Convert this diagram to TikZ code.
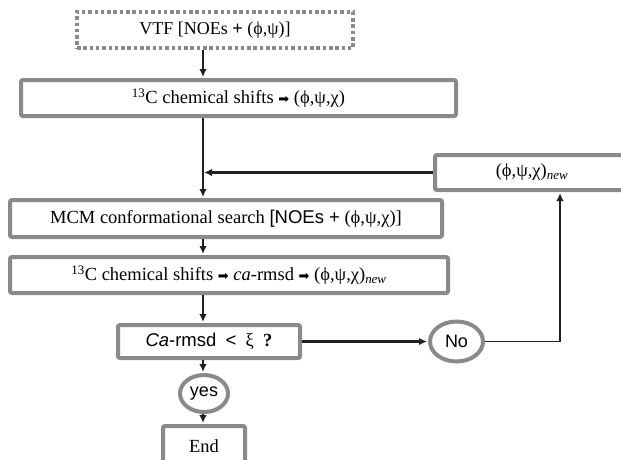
\documentclass[tikz,border=0pt]{standalone}
\usepackage{fontspec}
\setmainfont{Liberation Serif}
\setsansfont{Liberation Sans}
\newfontfamily\arrowfont{DejaVu Sans}
\usetikzlibrary{arrows.meta,shapes.geometric,calc}
\definecolor{FlowGray}{HTML}{8A8A8A}
\definecolor{FlowInk}{HTML}{231F20}
\newcommand{\heavyarr}{{\arrowfont\fontsize{13pt}{13pt}\selectfont ➡}}
\tikzset{
  flowBase/.style={
    font=\fontsize{18.5pt}{21pt}\selectfont,
    text centered,
    inner sep=0pt,
    line width=4pt,
    draw=FlowGray,
    rounded corners=2pt
  },
  flowBox/.style={
    flowBase,
    rectangle
  },
  flowStart/.style={
    flowBase,
    rounded corners=0pt,
    font=\fontsize{18pt}{21pt}\selectfont,
    dash pattern=on 3.5pt off 2.8pt
  },
  flowAnswer/.style={
    flowBase,
    ellipse,
    font=\sffamily\fontsize{18pt}{21pt}\selectfont
  },
  flowArrow/.style={
    line width=2.8pt,
    color=FlowInk,
    shorten >=1pt,
    -{Latex[length=8pt,width=7.5pt]}
  },
  flowArrowThin/.style={
    flowArrow,
    line width=1.5pt
  }
}
\begin{document}
\begin{tikzpicture}[x=1pt, y=-1pt]
  \useasboundingbox (0,0) rectangle (621,459);
  \coordinate (spine) at (203,0);
  \coordinate (riser) at (560,0);

  \node (vtf) [flowStart, minimum width=276pt, minimum height=36pt] at (215,30)
    {VTF [NOEs \textsf{+} (ϕ,ψ)]};
  \node (c13a) [flowBox, minimum width=435pt, minimum height=36pt] at (238.5,98)
    {\textsuperscript{13}C chemical shifts \heavyarr{} (ϕ,ψ,χ)};
  \node (fb) [flowBox, minimum width=194pt, minimum height=35pt] at (532,172.5)
    {(ϕ,ψ,χ)\textsubscript{\textit{new}}};
  \node (mcm) [flowBox, minimum width=432pt, minimum height=37pt] at (226,218.5)
    {MCM conformational search \textsf{[NOEs +} (ϕ,ψ,χ)]};
  \node (c13b) [flowBox, minimum width=438pt, minimum height=36pt] at (229,275)
    {\textsuperscript{13}C chemical shifts \heavyarr{} \textit{ca}-rmsd \heavyarr{} (ϕ,ψ,χ)\textsubscript{\textit{new}}};
  \node (test) [flowBox, minimum width=182pt, minimum height=33pt] at (209,341.5)
    {\textsf{\textit{Ca}-rmsd\enspace<\enspace}ξ\enspace\textbf{?}};
  \node (no) [flowAnswer, minimum width=53pt, minimum height=40pt] at (456.5,341.5) {No};
  \node (yes) [flowAnswer, minimum width=48pt, minimum height=37pt] at (204,393.5) {yes};
  \node (endb) [flowBox, minimum width=82pt, minimum height=40pt] at (204,446) {End};

  \draw [flowArrow] (vtf.south -| spine) -- (c13a.north -| spine);
  \draw [flowArrow] (c13a.south -| spine) -- (mcm.north -| spine);
  \draw [flowArrow] (fb.west) -- (fb.west -| spine);
  \draw [flowArrow] (mcm.south -| spine) -- (c13b.north -| spine);
  \draw [flowArrow] (c13b.south -| spine) -- (test.north -| spine);
  \draw [flowArrow] (test.south -| spine) -- (yes.north -| spine);
  \draw [flowArrow] (yes.south -| spine) -- (endb.north -| spine);
  \draw [flowArrow] (test.east) -- (no.west);
  \draw [flowArrowThin] (no.east) -| (fb.south -| riser);
\end{tikzpicture}
\end{document}
